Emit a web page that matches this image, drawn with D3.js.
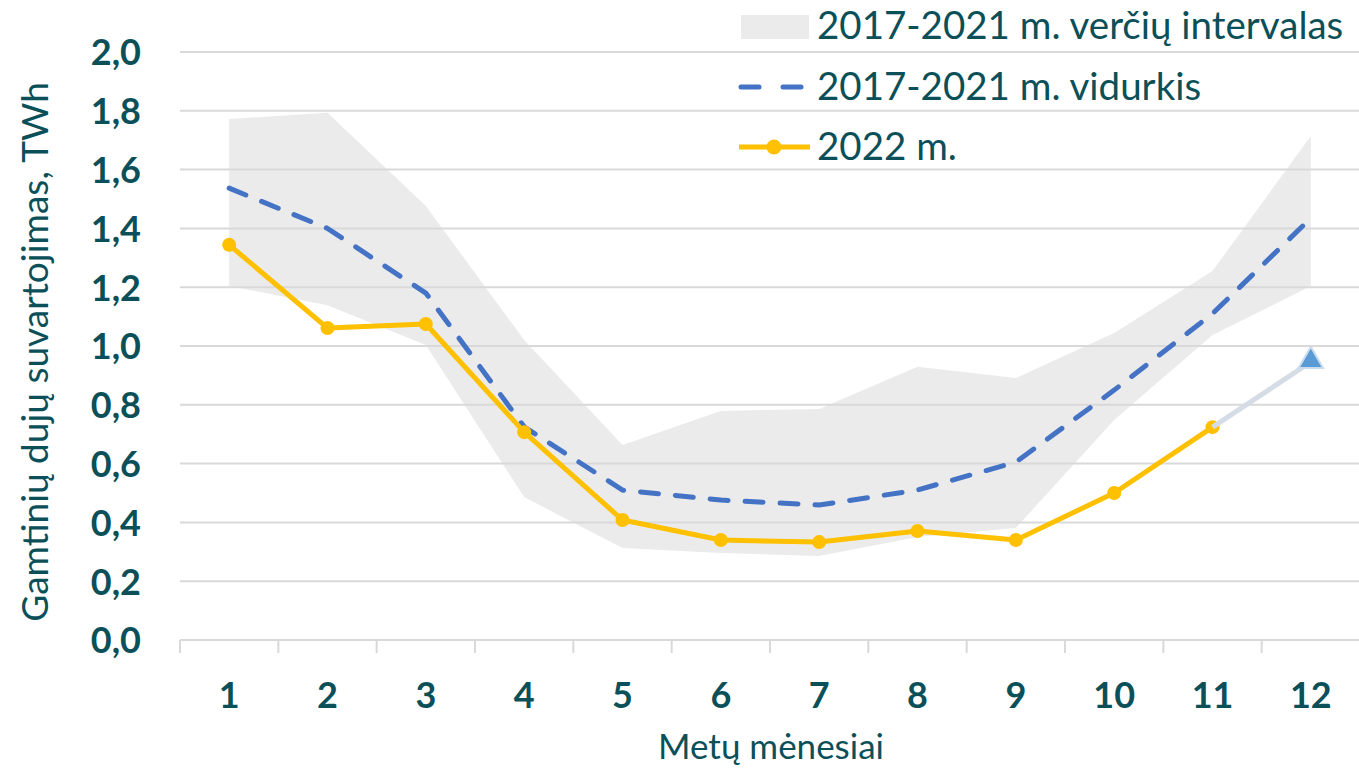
<!DOCTYPE html>
<html>
<head>
<meta charset="utf-8">
<script src="https://cdn.jsdelivr.net/npm/d3@7"></script>
<style>
  html, body { margin: 0; padding: 0; background: #ffffff; }
  svg { display: block; font-family: Lato, "Open Sans", sans-serif; }
</style>
</head>
<body>
<svg id="chart" width="1359" height="768"></svg>
<script>
// Monthly natural gas consumption, TWh
const months = [1, 2, 3, 4, 5, 6, 7, 8, 9, 10, 11, 12];
const rangeMax = [1.772, 1.793, 1.476, 1.02, 0.663, 0.779, 0.786, 0.929, 0.891, 1.044, 1.255, 1.714];
const rangeMin = [1.204, 1.139, 1.003, 0.486, 0.313, 0.296, 0.286, 0.35, 0.381, 0.748, 1.037, 1.204];
const average = [1.537, 1.40, 1.18, 0.725, 0.51, 0.476, 0.459, 0.51, 0.605, 0.85, 1.11, 1.435];
const actual2022 = [1.344, 1.061, 1.075, 0.707, 0.408, 0.34, 0.333, 0.371, 0.34, 0.50, 0.724];
const forecastMonths = [11, 12];
const forecast2022 = [0.724, 0.946];
const yTicks = [0, 0.2, 0.4, 0.6, 0.8, 1.0, 1.2, 1.4, 1.6, 1.8, 2.0];

const legendLabels = ["2017-2021 m. verčių intervalas", "2017-2021 m. vidurkis", "2022 m."];
const yTitle = "Gamtinių dujų suvartojimas, TWh";
const xTitle = "Metų mėnesiai";

const textColor = "#0b5058";
const gridColor = "#d9d9d9";
const bandColor = "#ebebeb";
const avgColor = "#4472c4";
const yellow = "#ffc000";

const svg = d3.select("#chart");

const x = d3.scaleBand().domain(months).range([180, 1360]).paddingInner(0).paddingOuter(0);
const cx = m => x(m) + x.bandwidth() / 2;
const y = d3.scaleLinear().domain([0, 2]).range([640, 52]);
const fmt = v => d3.format(".1f")(v).replace(".", ",");

// min–max range band
const bandData = months.map((m, i) => ({ m, lo: rangeMin[i], hi: rangeMax[i] }));
svg.append("path")
  .datum(bandData)
  .attr("fill", bandColor)
  .attr("d", d3.area().x(d => cx(d.m)).y0(d => y(d.lo)).y1(d => y(d.hi)));

// horizontal gridlines
svg.append("g")
  .selectAll("line")
  .data(yTicks.slice(1))
  .join("line")
  .attr("x1", 180).attr("x2", 1359)
  .attr("y1", d => y(d)).attr("y2", d => y(d))
  .attr("stroke", gridColor).attr("stroke-width", 2);

// x axis with ticks between categories
const xAxis = d3.axisBottom(x).tickSize(0).tickPadding(0).tickFormat(d => d);
const gx = svg.append("g").attr("transform", `translate(0,${y(0)})`).call(xAxis);
gx.select(".domain").attr("stroke", gridColor).attr("stroke-width", 2).attr("d", "M180,0H1359");
gx.selectAll(".tick text")
  .attr("dy", null).attr("y", 68)
  .attr("fill", textColor)
  .attr("font-size", 36).attr("font-weight", 700)
  .attr("font-family", "Lato, sans-serif");
gx.selectAll(".tick line").remove();
gx.append("g").selectAll("line")
  .data(months)
  .join("line")
  .attr("x1", d => x(d)).attr("x2", d => x(d))
  .attr("y1", 0).attr("y2", 13)
  .attr("stroke", gridColor).attr("stroke-width", 2);

// y axis labels
const yAxis = d3.axisLeft(y).tickValues(yTicks).tickSize(0).tickPadding(0).tickFormat(fmt);
const gy = svg.append("g").attr("transform", "translate(141,0)").call(yAxis);
gy.select(".domain").remove();
gy.selectAll(".tick text")
  .attr("x", 0).attr("dy", "0.36em")
  .attr("fill", textColor)
  .attr("font-size", 36).attr("font-weight", 700)
  .attr("font-family", "Lato, sans-serif");

// axis titles
svg.append("text")
  .attr("transform", "translate(48,352) rotate(-90)")
  .attr("text-anchor", "middle")
  .attr("fill", textColor)
  .attr("font-size", 37)
  .text(yTitle);

svg.append("text")
  .attr("x", 771).attr("y", 759)
  .attr("text-anchor", "middle")
  .attr("fill", textColor)
  .attr("font-size", 35)
  .text(xTitle);

// 2017–2021 average (dashed)
svg.append("path")
  .datum(months.map((m, i) => ({ m, v: average[i] })))
  .attr("fill", "none")
  .attr("stroke", avgColor)
  .attr("stroke-width", 5)
  .attr("stroke-linecap", "round")
  .attr("stroke-dasharray", "18 17")
  .attr("d", d3.line().x(d => cx(d.m)).y(d => y(d.v)));

// 2022 actual
const act = actual2022.map((v, i) => ({ m: months[i], v }));
svg.append("path")
  .datum(act)
  .attr("fill", "none")
  .attr("stroke", yellow)
  .attr("stroke-width", 5)
  .attr("stroke-linejoin", "round")
  .attr("d", d3.line().x(d => cx(d.m)).y(d => y(d.v)));
svg.append("g").selectAll("circle")
  .data(act)
  .join("circle")
  .attr("cx", d => cx(d.m)).attr("cy", d => y(d.v))
  .attr("r", 7).attr("fill", yellow);

// 2022 forecast segment
const fc = forecastMonths.map((m, i) => ({ m, v: forecast2022[i] }));
svg.append("path")
  .datum(fc)
  .attr("fill", "none")
  .attr("stroke", "#d6dce5")
  .attr("stroke-width", 5)
  .attr("d", d3.line().x(d => cx(d.m)).y(d => y(d.v)));
const last = fc[fc.length - 1];
svg.append("path")
  .attr("d", d3.symbol().type(d3.symbolTriangle).size(260)())
  .attr("transform", `translate(${cx(last.m)},${y(last.v) - 1})`)
  .attr("fill", "#5b9bd5")
  .attr("stroke", "#c9dcef")
  .attr("stroke-width", 2);

// legend
const lg = svg.append("g").attr("font-size", 38.5).attr("fill", textColor);
lg.append("rect").attr("x", 741).attr("y", 15).attr("width", 68).attr("height", 24).attr("fill", bandColor);
lg.append("text").attr("x", 817).attr("y", 39).attr("fill", textColor).text(legendLabels[0]);

lg.append("line").attr("x1", 741).attr("x2", 759).attr("y1", 87).attr("y2", 87)
  .attr("stroke", avgColor).attr("stroke-width", 5).attr("stroke-linecap", "round");
lg.append("line").attr("x1", 783).attr("x2", 801).attr("y1", 87).attr("y2", 87)
  .attr("stroke", avgColor).attr("stroke-width", 5).attr("stroke-linecap", "round");
lg.append("text").attr("x", 817).attr("y", 100).attr("fill", textColor).text(legendLabels[1]);

lg.append("line").attr("x1", 739).attr("x2", 810).attr("y1", 147).attr("y2", 147)
  .attr("stroke", yellow).attr("stroke-width", 5);
lg.append("circle").attr("cx", 774).attr("cy", 147).attr("r", 7.5).attr("fill", yellow);
lg.append("text").attr("x", 817).attr("y", 160).attr("fill", textColor).text(legendLabels[2]);
</script>
</body>
</html>
